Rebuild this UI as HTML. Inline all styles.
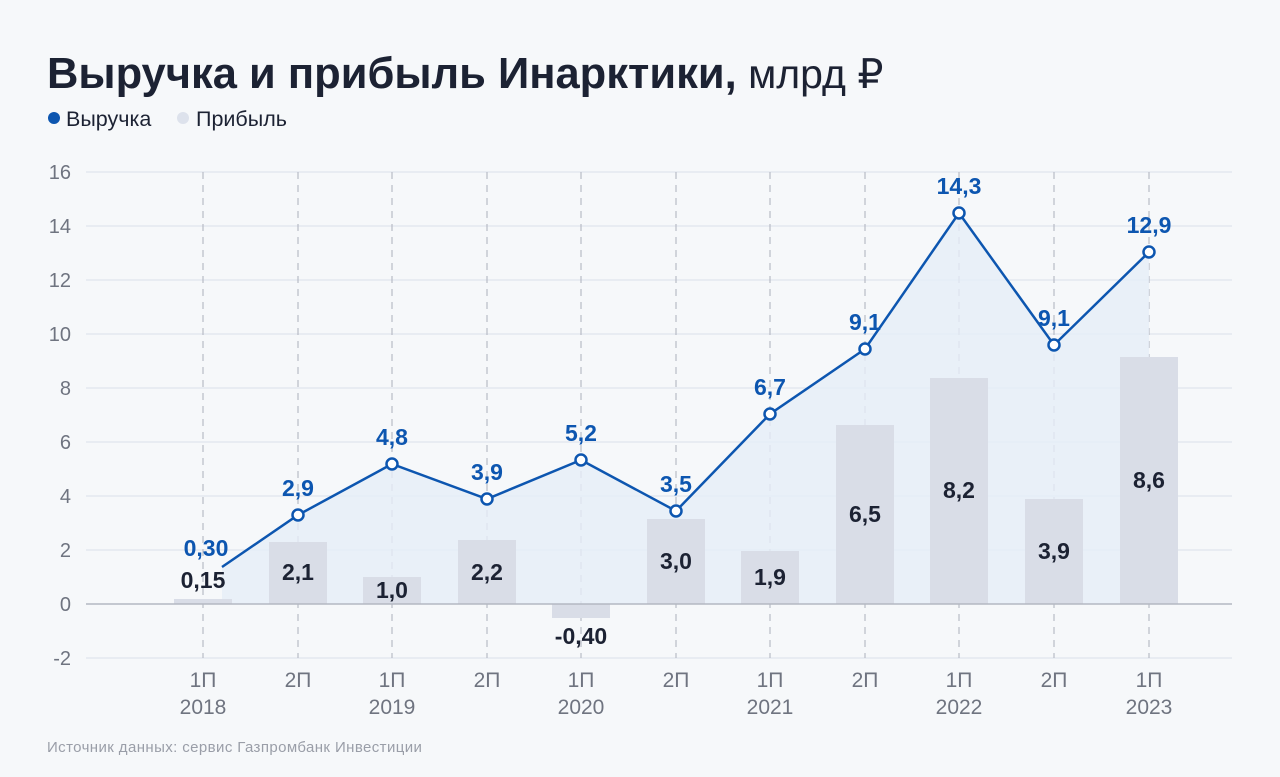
<!DOCTYPE html>
<html><head><meta charset="utf-8"><style>
body{margin:0;background:#f6f8fa;}
svg{display:block;font-family:"Liberation Sans",sans-serif;}
</style></head><body>
<svg width="1280" height="777" viewBox="0 0 1280 777">
<rect width="1280" height="777" fill="#f6f8fa"/>
<text x="47" y="88" font-size="43.5" font-weight="bold" fill="#1c2233">Выручка и прибыль Инарктики,<tspan font-weight="normal" font-size="41"> млрд ₽</tspan></text>
<circle cx="54" cy="118" r="6" fill="#0d56b0"/>
<text x="66" y="126" font-size="21.5" fill="#1c2233">Выручка</text>
<circle cx="183" cy="118" r="6" fill="#dde2ec"/>
<text x="196" y="126" font-size="21.5" fill="#1c2233">Прибыль</text>
<g stroke="#dfe4ee" stroke-width="1.2">
<line x1="86" x2="1232" y1="172" y2="172"/><line x1="86" x2="1232" y1="226" y2="226"/>
<line x1="86" x2="1232" y1="280" y2="280"/><line x1="86" x2="1232" y1="334" y2="334"/>
<line x1="86" x2="1232" y1="388" y2="388"/><line x1="86" x2="1232" y1="442" y2="442"/>
<line x1="86" x2="1232" y1="496" y2="496"/><line x1="86" x2="1232" y1="550" y2="550"/>
<line x1="86" x2="1232" y1="658" y2="658"/>
</g>
<g font-size="20" fill="#6f7480" text-anchor="end">
<text x="71" y="179">16</text><text x="71" y="233">14</text><text x="71" y="287">12</text>
<text x="71" y="341">10</text><text x="71" y="395">8</text><text x="71" y="449">6</text>
<text x="71" y="503">4</text><text x="71" y="557">2</text><text x="71" y="611">0</text><text x="71" y="665">-2</text>
</g>
<g stroke="#b8bcc6" stroke-width="1.2" stroke-dasharray="7,6">
<line x1="203" x2="203" y1="172" y2="658"/><line x1="298" x2="298" y1="172" y2="658"/>
<line x1="392" x2="392" y1="172" y2="658"/><line x1="487" x2="487" y1="172" y2="658"/>
<line x1="581" x2="581" y1="172" y2="658"/><line x1="676" x2="676" y1="172" y2="658"/>
<line x1="770" x2="770" y1="172" y2="658"/><line x1="865" x2="865" y1="172" y2="658"/>
<line x1="959" x2="959" y1="172" y2="658"/><line x1="1054" x2="1054" y1="172" y2="658"/>
<line x1="1149" x2="1149" y1="172" y2="658"/>
</g>
<polygon points="222,567 298,515 392,464 487,499 581,460 676,511 770,414 865,349 959,213 1054,345 1149,252 1149,604 222,604" fill="#e6edf7" opacity="0.8"/>
<g fill="#d9dde7">
<rect x="174" y="599" width="58" height="5"/><rect x="269" y="542" width="58" height="62"/>
<rect x="363" y="577" width="58" height="27"/><rect x="458" y="540" width="58" height="64"/>
<rect x="552" y="604" width="58" height="14"/><rect x="647" y="519" width="58" height="85"/>
<rect x="741" y="551" width="58" height="53"/><rect x="836" y="425" width="58" height="179"/>
<rect x="930" y="378" width="58" height="226"/><rect x="1025" y="499" width="58" height="105"/>
<rect x="1120" y="357" width="58" height="247"/>
</g>
<line x1="86" x2="1232" y1="604" y2="604" stroke="#b4b8c2" stroke-width="1.5"/>
<polyline points="222,567 298,515 392,464 487,499 581,460 676,511 770,414 865,349 959,213 1054,345 1149,252" fill="none" stroke="#0d56b0" stroke-width="2.5"/>
<g fill="#fff" stroke="#0d56b0" stroke-width="2.5">
<circle cx="298" cy="515" r="5.5"/><circle cx="392" cy="464" r="5.5"/><circle cx="487" cy="499" r="5.5"/>
<circle cx="581" cy="460" r="5.5"/><circle cx="676" cy="511" r="5.5"/><circle cx="770" cy="414" r="5.5"/>
<circle cx="865" cy="349" r="5.5"/><circle cx="959" cy="213" r="5.5"/><circle cx="1054" cy="345" r="5.5"/>
<circle cx="1149" cy="252" r="5.5"/>
</g>
<g font-size="23" fill="#0d56b0" text-anchor="middle" font-weight="bold">
<text x="206" y="556">0,30</text><text x="298" y="496">2,9</text><text x="392" y="445">4,8</text>
<text x="487" y="480">3,9</text><text x="581" y="441">5,2</text><text x="676" y="492">3,5</text>
<text x="770" y="395">6,7</text><text x="865" y="330">9,1</text><text x="959" y="194">14,3</text>
<text x="1054" y="326">9,1</text><text x="1149" y="233">12,9</text>
</g>
<g font-size="23" fill="#1c2233" text-anchor="middle" font-weight="bold">
<text x="203" y="588">0,15</text><text x="298" y="580">2,1</text><text x="392" y="598">1,0</text>
<text x="487" y="580">2,2</text><text x="581" y="644">-0,40</text><text x="676" y="569">3,0</text>
<text x="770" y="585">1,9</text><text x="865" y="522">6,5</text><text x="959" y="498">8,2</text>
<text x="1054" y="559">3,9</text><text x="1149" y="488">8,6</text>
</g>
<g font-size="21" fill="#6f7480" text-anchor="middle">
<text x="203" y="687">1П</text><text x="298" y="687">2П</text><text x="392" y="687">1П</text><text x="487" y="687">2П</text>
<text x="581" y="687">1П</text><text x="676" y="687">2П</text><text x="770" y="687">1П</text><text x="865" y="687">2П</text>
<text x="959" y="687">1П</text><text x="1054" y="687">2П</text><text x="1149" y="687">1П</text>
<text x="203" y="714">2018</text><text x="392" y="714">2019</text><text x="581" y="714">2020</text>
<text x="770" y="714">2021</text><text x="959" y="714">2022</text><text x="1149" y="714">2023</text>
</g>
<text x="47" y="752" font-size="15" fill="#9a9ea8" letter-spacing="0.4">Источник данных: сервис Газпромбанк Инвестиции</text>
</svg>
</body></html>
